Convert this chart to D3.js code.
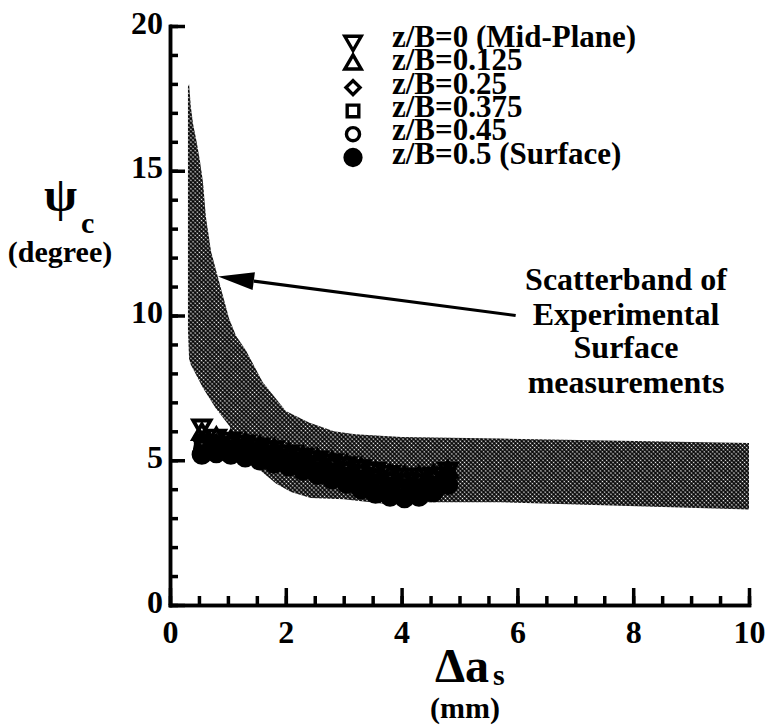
<!DOCTYPE html>
<html><head><meta charset="utf-8">
<script src="https://cdn.jsdelivr.net/npm/d3@7/dist/d3.min.js"></script>
</head><body style="margin:0">
<svg id="s" width="765" height="728"></svg>
<script>
// ---- data ----
const seriesLabels = ["z/B=0 (Mid-Plane)","z/B=0.125","z/B=0.25","z/B=0.375","z/B=0.45","z/B=0.5 (Surface)"];
const xValues   = [0.55,0.8,1.05,1.3,1.55,1.8,2.05,2.3,2.55,2.8,3.05,3.3,3.55,3.8,4.05,4.3,4.55,4.8];
const midPlane  = [6.2,5.85,5.75,5.65,5.55,5.45,5.3,5.2,5.1,5.0,4.9,4.8,4.7,4.6,4.5,4.5,4.55,4.7];
const zb0125    = [5.9,5.75,5.65,5.55,5.45,5.35,5.2,5.1,5.0,4.9,4.8,4.7,4.55,4.45,4.4,4.4,4.45,4.6];
const zb025     = [5.7,5.6,5.55,5.45,5.35,5.25,5.1,5.0,4.9,4.8,4.65,4.55,4.4,4.3,4.25,4.25,4.35,4.5];
const zb0375    = [5.6,5.5,5.45,5.35,5.25,5.15,5.0,4.9,4.8,4.65,4.5,4.4,4.25,4.15,4.1,4.1,4.2,4.4];
const zb045     = [5.4,5.4,5.35,5.25,5.15,5.05,4.9,4.8,4.65,4.5,4.35,4.2,4.05,3.95,3.9,3.95,4.05,4.3];
const surface   = [5.2,5.25,5.2,5.1,5.0,4.9,4.8,4.65,4.5,4.35,4.2,4.0,3.85,3.75,3.7,3.75,3.9,4.15];

// scatterband of experimental surface measurements
const bandUpperX = [0.33,0.36,0.4,0.46,0.52,0.57,0.62,0.71,0.83,1.02,1.14,1.31,1.6,2.0,2.4,2.83,3.2,4.0,5.7,10];
const bandUpperY = [18.0,17.2,16.6,16.0,15.3,14.6,13.4,12.2,11.3,9.9,9.3,8.8,7.7,6.7,6.3,6.0,5.9,5.8,5.75,5.6];
const bandLowerX = [0.31,0.31,0.33,0.36,0.57,0.79,1.02,1.25,1.53,1.83,2.09,2.43,3.0,3.69,4.55,5.7,10];
const bandLowerY = [17.9,9.5,8.5,8.3,7.5,6.8,6.2,5.4,4.7,4.2,3.9,3.7,3.65,3.5,3.55,3.55,3.3];

// arrow (tail -> tip) and annotation
const arrowFrom = [5.97,10.0];
const arrowTo   = [0.83,11.35];
const noteLines = ["Scatterband of","Experimental","Surface","measurements"];

const xTickLabels = [0,2,4,6,8,10];
const yTickLabels = [0,5,10,15,20];

// ---- chart ----
const svg = d3.select("#s");
const x = d3.scaleLinear().domain([0,10]).range([170,749]);
const y = d3.scaleLinear().domain([0,20]).range([605,26]);
function serif(sel, size){
  return sel.attr("font-family","Liberation Serif").attr("font-weight","bold").attr("font-size",size)
    .attr("fill","#000")
    .style("font-family",'"Liberation Serif"').style("font-weight","bold").style("font-size",size+"px");
}

// halftone pattern
const defs = svg.append("defs");
const pat = defs.append("pattern").attr("id","half").attr("patternUnits","userSpaceOnUse")
  .attr("width",3).attr("height",3).attr("patternTransform","rotate(45)");
pat.append("rect").attr("width",3).attr("height",3).attr("fill","#0a0a0a");
pat.append("circle").attr("cx",1.5).attr("cy",1.5).attr("r",0.8).attr("fill","#fff");

// band polygon
const bandPts = bandUpperX.map((d,i)=>[d,bandUpperY[i]])
  .concat(bandLowerX.map((d,i)=>[d,bandLowerY[i]]).reverse());
svg.append("path")
  .attr("d", d3.line().x(d=>x(d[0])).y(d=>y(d[1])).curve(d3.curveLinearClosed)(bandPts))
  .attr("fill","url(#half)");

// markers
const seriesData = [midPlane,zb0125,zb025,zb0375,zb045,surface];
const shapes = [
  {type:d3.symbolTriangle, size:130, rot:180, fill:"none"},
  {type:d3.symbolTriangle, size:130, rot:0, fill:"none"},
  {type:d3.symbolSquare, size:110, rot:45, fill:"none"},
  {type:d3.symbolSquare, size:150, rot:0, fill:"none"},
  {type:d3.symbolCircle, size:150, rot:0, fill:"none"},
  {type:d3.symbolCircle, size:220, rot:0, fill:"#000"}
];
seriesData.forEach((vals,si)=>{
  const s = shapes[si];
  svg.append("g").selectAll("path").data(vals).join("path")
    .attr("d", d3.symbol().type(s.type).size(s.size)())
    .attr("transform",(d,i)=>`translate(${x(xValues[i])},${y(d)}) rotate(${s.rot})`)
    .attr("fill",s.fill).attr("stroke","#000").attr("stroke-width",3.8);
});

// axes (ticks point inward)
function styleAxis(g){
  g.attr("font-family",null).attr("font-size",null);
  g.selectAll("path,line").attr("stroke","#000").attr("stroke-width",3.5);
}
const yMinor = svg.append("g").attr("transform","translate(170,0)")
  .call(d3.axisLeft(y).tickValues(d3.range(0,21)).tickSize(-8).tickFormat("").tickSizeOuter(0));
styleAxis(yMinor);
const yMajor = svg.append("g").attr("transform","translate(170,0)")
  .call(d3.axisLeft(y).tickValues(yTickLabels).tickSize(-15).tickSizeOuter(0).tickPadding(7));
styleAxis(yMajor);
serif(yMajor.selectAll("text"),32).attr("dy","7px");

const xMinor = svg.append("g").attr("transform","translate(0,605)")
  .call(d3.axisBottom(x).tickValues(d3.range(0,10.01,0.5)).tickSize(-9).tickFormat("").tickSizeOuter(0));
styleAxis(xMinor);
const xMajor = svg.append("g").attr("transform","translate(0,605)")
  .call(d3.axisBottom(x).tickValues(xTickLabels).tickSize(-17).tickSizeOuter(0).tickPadding(15));
styleAxis(xMajor);
serif(xMajor.selectAll("text"),32);
svg.selectAll(".domain").attr("stroke-linecap","square");

// legend
seriesLabels.forEach((lab,i)=>{
  const s = shapes[i];
  const cy = 41 + i*23.3;
  svg.append("path").attr("d", d3.symbol().type(s.type).size(s.size*0.9)())
    .attr("transform",`translate(353,${cy}) rotate(${s.rot})`)
    .attr("fill",s.fill).attr("stroke","#000").attr("stroke-width",3.4);
  serif(svg.append("text").attr("x",392).attr("y",47+i*23.3),31).text(lab);
});

// arrow
const ax0 = x(arrowFrom[0]), ay0 = y(arrowFrom[1]), ax1 = x(arrowTo[0]), ay1 = y(arrowTo[1]);
const ang = Math.atan2(ay1-ay0, ax1-ax0);
const hl = 36, hw = 9;
const bx = ax1 - hl*Math.cos(ang), by = ay1 - hl*Math.sin(ang);
svg.append("line").attr("x1",ax0).attr("y1",ay0).attr("x2",bx).attr("y2",by)
  .attr("stroke","#000").attr("stroke-width",3.2);
svg.append("path").attr("d",`M${ax1},${ay1}L${bx - hw*Math.sin(ang)},${by + hw*Math.cos(ang)}L${bx + hw*Math.sin(ang)},${by - hw*Math.cos(ang)}Z`)
  .attr("fill","#000");

// annotation
noteLines.forEach((t,i)=>{
  serif(svg.append("text").attr("x",626).attr("y",[290,325,358,393][i]).attr("text-anchor","middle"),32).text(t);
});

// axis titles
serif(svg.append("text").attr("x",44).attr("y",211),48).text("ψ");
serif(svg.append("text").attr("x",81).attr("y",233),30).text("c");
serif(svg.append("text").attr("x",60).attr("y",262).attr("text-anchor","middle"),30).text("(degree)");

serif(svg.append("text").attr("x",435).attr("y",682),48).text("Δa");
serif(svg.append("text").attr("x",493).attr("y",685),30).text("s");
serif(svg.append("text").attr("x",430).attr("y",718),30).text("(mm)");
</script>
</body></html>
